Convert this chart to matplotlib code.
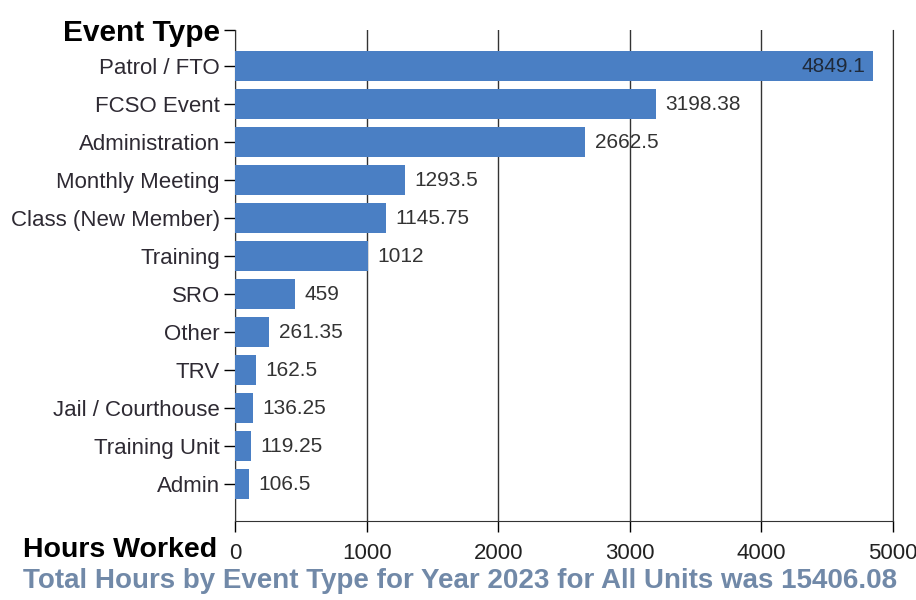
import matplotlib.pyplot as plt

# data
event_types = ["Patrol / FTO", "FCSO Event", "Administration", "Monthly Meeting",
               "Class (New Member)", "Training", "SRO", "Other", "TRV",
               "Jail / Courthouse", "Training Unit", "Admin"]
hours = [4849.1, 3198.38, 2662.5, 1293.5, 1145.75, 1012, 459, 261.35, 162.5,
         136.25, 119.25, 106.5]
value_labels = ["4849.1", "3198.38", "2662.5", "1293.5", "1145.75", "1012", "459",
                "261.35", "162.5", "136.25", "119.25", "106.5"]
x_ticks = [0, 1000, 2000, 3000, 4000, 5000]
total_text = "Total Hours by Event Type for Year 2023 for All Units was 15406.08"

plt.rcParams["font.family"] = ["Liberation Sans", "DejaVu Sans"]

fig = plt.figure(figsize=(9.16, 6), dpi=100)
ax = fig.add_axes([0.2566, 0.1317, 0.9749 - 0.2566, 0.95 - 0.1317])

bar_color = "#4a7fc4"
pos = list(range(len(event_types)))
ax.barh(pos, hours, height=0.8, color=bar_color, zorder=3)

for p, h, lab in zip(pos, hours, value_labels):
    if p == 0:
        ax.text(h - 60, p, lab, ha="right", va="center", fontsize=15,
                color="#1f2a3a", zorder=4)
    else:
        ax.text(h + 70, p, lab, ha="left", va="center", fontsize=15,
                color="#333333", zorder=4)

top = -0.95
ax.set_ylim(11.97, top)
ax.set_xlim(0, 5000)

ax.set_yticks([top] + pos)
ax.set_yticklabels(["Event Type"] + event_types)
for i, t in enumerate(ax.get_yticklabels()):
    t.set_fontsize(16)
    t.set_color("#2e2a33")
    if i == 0:
        t.set_fontsize(21.5)
        t.set_fontweight("bold")
        t.set_color("black")

ax.set_xticks(x_ticks)
ax.set_xticklabels([str(v) for v in x_ticks], fontsize=16, color="#222222")
ax.tick_params(axis="x", length=8, width=1, pad=8, direction="out")
ax.tick_params(axis="y", length=8, width=1, pad=3)

ax.grid(axis="x", color="#333333", linewidth=1, zorder=0)
ax.spines["top"].set_visible(False)
for s in ["left", "bottom", "right"]:
    ax.spines[s].set_color("#333333")

fig.text(0.2366, 0.083, "Hours Worked", ha="right", va="center", fontsize=20.5,
         fontweight="bold", color="black")
fig.text(0.025, 0.032, total_text, ha="left", va="center", fontsize=20,
         fontweight="bold", color="#7189a8")

fig.savefig("out.png", dpi=100)
